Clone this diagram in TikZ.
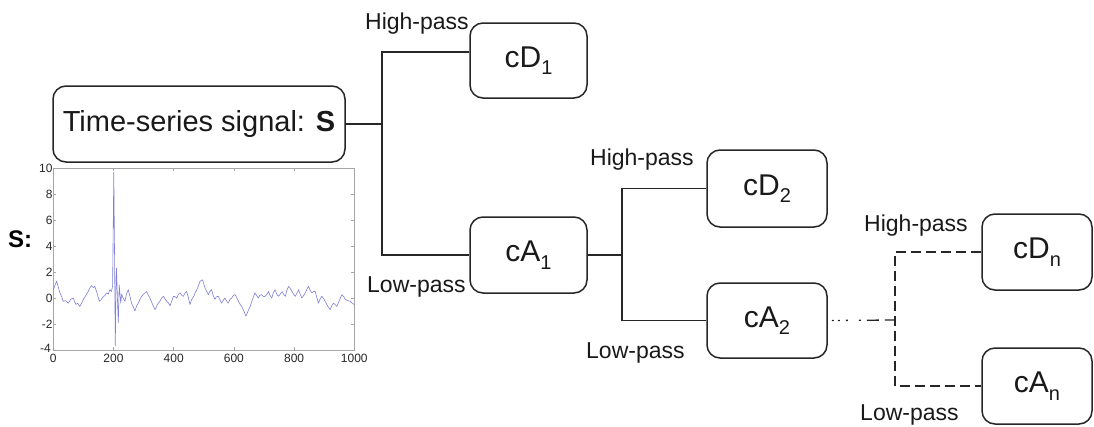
\documentclass[tikz,border=0pt]{standalone}
\usepackage{fontspec}
\setmainfont{Liberation Sans}
\usetikzlibrary{calc}
\definecolor{sigblue}{RGB}{128,128,215}
\newcommand{\mysub}[1]{\raisebox{-0.25em}{\fontsize{20}{20}\selectfont #1}}
\begin{document}
\begin{tikzpicture}[x=1pt,y=-1pt,
  box/.style={draw=black!85, line width=1.5pt, rounded corners=13pt, inner sep=0pt, text=black!90, font=\fontsize{30}{31}\selectfont},
  conn/.style={draw=black!85, line width=1.4pt},
  lbl/.style={font=\fontsize{23}{24}\selectfont, inner sep=0pt, anchor=base west, text=black!90},
  ticklbl/.style={font=\fontsize{12}{13}\selectfont, text=black!85, inner sep=0pt},
  axisline/.style={draw=black!35, line width=0.7pt}]
\useasboundingbox (0,0) rectangle (1094,426);

% boxes
\node[box, minimum width=292pt, minimum height=76pt, font=\fontsize{29}{30}\selectfont] (ts) at (199,124) {Time-series signal: \textbf{S}};
\node[box, minimum width=117pt, minimum height=75pt] (cD1) at (528.5,60.5) {cD\mysub{1}};
\node[box, minimum width=117pt, minimum height=76pt] (cA1) at (528.5,255) {cA\mysub{1}};
\node[box, minimum width=120pt, minimum height=77pt] (cD2) at (767,188.5) {cD\mysub{2}};
\node[box, minimum width=120pt, minimum height=75pt] (cA2) at (767,320.5) {cA\mysub{2}};
\node[box, minimum width=110pt, minimum height=76pt] (cDn) at (1037,252) {cD\mysub{n}};
\node[box, minimum width=110pt, minimum height=76pt] (cAn) at (1037,386) {cA\mysub{n}};

% labels
\node[lbl] (hp1) at (365,29) {High-pass};
\node[lbl] (lp1) at (367,292) {Low-pass};
\node[lbl] (hp2) at (590,165) {High-pass};
\node[lbl] (lp2) at (586,358) {Low-pass};
\node[lbl] (hpn) at (864,231) {High-pass};
\node[lbl] (lpn) at (860,420) {Low-pass};
\node[font=\fontsize{24}{24}\selectfont\bfseries, inner sep=0pt, anchor=base west] (slbl) at (8,247) {S:};

% connectors
\coordinate (j1) at (382,124);
\draw[conn] (ts.east) -- (j1);
\draw[conn] ($(cD1.west)+(0,-8.5)$) -| (j1) |- (cA1.west);
\coordinate (j2) at (622,255);
\draw[conn] (cA1.east) -- (j2);
\draw[conn] (cD2.west) -| (j2) |- (cA2.west);
\coordinate (j3) at (895,320);
\draw[conn, line width=1.3pt, dash pattern=on 0pt off 4pt on 2pt off 4pt on 2pt off 6pt on 2pt off 11pt on 2pt off 6pt on 12pt off 6pt on 11pt] (cA2.east) -- (j3);
\draw[conn, line width=1.3pt, dash pattern=on 10pt off 5pt] (cDn.west) -| (j3) |- (cAn.west);

% plot
\begin{scope}[shift={(53.3,298)}, xscale=0.301, yscale=-12.98]
  \fill[white] (0,-4) rectangle (1000,10);
  \draw[axisline] (0,-4) rectangle (1000,10);
  \foreach \x in {200,400,600,800} {
    \draw[axisline] (\x,-4) -- ++(0,0.25);
    \draw[axisline] (\x,10) -- ++(0,-0.25);
  }
  \foreach \y in {-2,0,2,4,6,8} {
    \draw[axisline] (0,\y) -- ++(10,0);
    \draw[axisline] (1000,\y) -- ++(-10,0);
  }
  \foreach \y in {10,8,6,4,2,0,-2} {
    \node[ticklbl, anchor=east] at (-2,\y) {\y};
  }
  \node[ticklbl, anchor=east] at (-8,-3.85) {-4};
  \foreach \x in {0,200,400,600,800,1000} {
    \node[ticklbl, anchor=north] at (\x,-4.3) {\x};
  }
  \draw[sigblue, line width=0.6pt, line join=round] plot coordinates {
    (0,0.64) (6,1.0) (11,1.3) (16,0.9) (22,0.4) (28,0.1) (33,-0.26) (41,-0.2) (50,-0.4)
    (58,-0.1) (66,0) (71,-0.3) (75,-0.5) (81,-0.4) (88,-0.65) (94,-0.4) (100,-0.1)
    (108,0.2) (116,0.5) (122,0.8) (127,0.95) (133,0.8) (138,0.9) (145,0.4) (153,-0.25)
    (160,-0.1) (166,0.1) (172,0.2) (177,0.4) (183,0.3) (188,0.65) (193,0.5) (197,0.9)
    (201,9.7) (204,2) (206,-3.7) (208,0.5) (210,2.3) (213,0) (216,-1.9) (219,1.0)
    (222,0.2) (224,-0.4) (227,0.3) (230,0.1) (234,-0.1) (238,-0.25) (243,0.3) (249,0.64)
    (255,0.1) (260,-0.4) (266,-0.7) (271,-1.0) (277,-0.6) (282,-0.4) (288,-0.1) (293,0.1)
    (300,0.3) (310,0.5) (316,0.2) (321,0) (330,-0.5) (338,-0.9) (346,-0.5) (354,-0.25)
    (360,0) (366,0.13) (372,-0.1) (377,-0.25) (383,-0.4) (388,-0.6) (394,-0.2) (399,0.13)
    (405,0.1) (410,0) (416,0.3) (421,0.4) (427,0.2) (432,0.13) (438,0.4) (443,0.5)
    (449,0) (454,-0.5) (460,-0.1) (466,0.1) (471,0.4) (477,0.64) (483,1.0) (488,1.3)
    (496,1.4) (500,1.1) (504,0.77) (510,0.5) (515,0.26) (520,0.5) (526,0.64) (531,0.2)
    (537,-0.1) (542,0.1) (548,0.13) (553,-0.1) (559,-0.4) (564,-0.2) (570,0) (575,-0.2)
    (581,-0.4) (587,-0.1) (593,0) (598,0.2) (604,0.26) (610,0) (615,-0.25) (621,-0.5)
    (626,-0.65) (633,-1.0) (640,-1.4) (647,-1.0) (654,-0.65) (662,-0.1) (670,0.4)
    (675,0.2) (681,0) (686,0.2) (692,0.26) (698,0.1) (704,0.13) (710,0.3) (715,0.5)
    (720,0.2) (726,0) (731,0.4) (737,0.64) (742,0.3) (748,0.13) (754,0.3) (760,0.5)
    (765,0.3) (771,0.13) (776,0.6) (782,0.9) (788,0.7) (793,0.5) (798,0.3) (804,0.13)
    (810,0.4) (815,0.64) (820,0.3) (826,0) (832,0.2) (837,0.4) (843,0.7) (848,0.9)
    (853,0.6) (859,0.4) (865,0.5) (870,0.5) (876,0) (881,-0.4) (886,-0.1) (892,0.13)
    (897,0) (903,-0.25) (911,-0.6) (920,-0.9) (925,-0.6) (931,-0.4) (936,-0.5) (942,-0.65)
    (950,-0.2) (959,0.26) (965,0.1) (970,-0.1) (978,-0.2) (986,-0.25) (993,-0.4) (1000,-0.5)
  };
\end{scope}
\end{tikzpicture}
\end{document}
